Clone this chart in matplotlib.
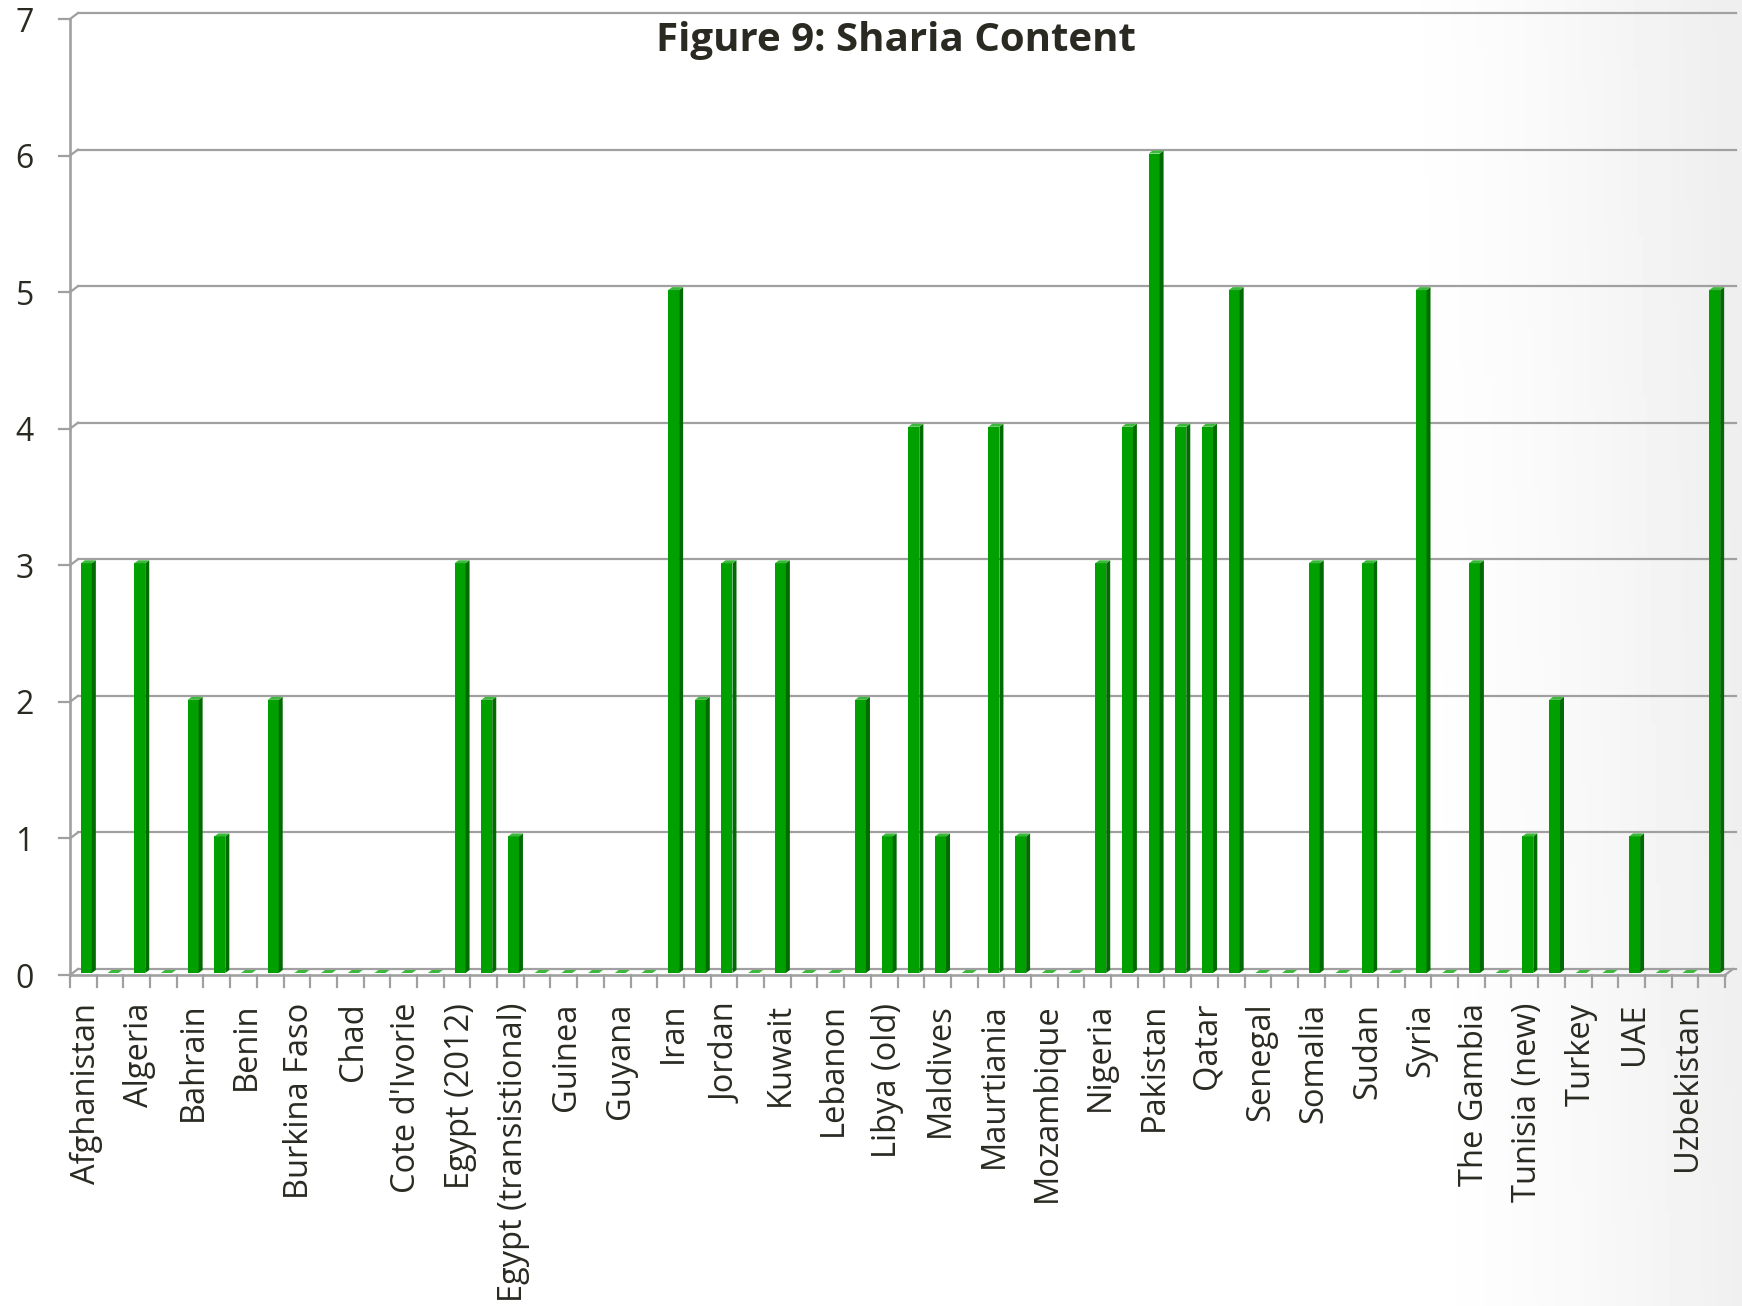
import numpy as np
import matplotlib
matplotlib.use("Agg")
import matplotlib.pyplot as plt
from matplotlib.collections import PolyCollection

# countries shown on the axis (every second column carries a label)
labels = ["Afghanistan", "Algeria", "Bahrain", "Benin", "Burkina Faso", "Chad",
          "Cote d'Ivorie", "Egypt (2012)", "Egypt (transistional)", "Guinea",
          "Guyana", "Iran", "Jordan", "Kuwait", "Lebanon", "Libya (old)",
          "Maldives", "Maurtiania", "Mozambique", "Nigeria", "Pakistan", "Qatar",
          "Senegal", "Somalia", "Sudan", "Syria", "The Gambia", "Tunisia (new)",
          "Turkey", "UAE", "Uzbekistan"]

# sharia content score per constitution, 62 columns
values = [3, 0, 3, 0, 2, 1, 0, 2, 0, 0,
          0, 0, 0, 0, 3, 2, 1, 0, 0, 0,
          0, 0, 5, 2, 3, 0, 3, 0, 0, 2,
          1, 4, 1, 0, 4, 1, 0, 0, 3, 4,
          6, 4, 4, 5, 0, 0, 3, 0, 3, 0,
          5, 0, 3, 0, 1, 2, 0, 0, 1, 0,
          0, 5]

yticks = [0, 1, 2, 3, 4, 5, 6, 7]

W, H = 1742, 1306
txt_col = "#2b2a22"
grid_col = "#a0a0a0"
front_col = "#00a000"
side_col = "#006b00"
top_col = "#3cb83c"
font = "Open Sans"

fig = plt.figure(figsize=(W/100, H/100), dpi=100)

# background: white fading to light grey on the right
bg = fig.add_axes([0, 0, 1, 1], zorder=-10)
gx = np.linspace(0, 1, 400)
gy = np.linspace(0, 1, 300)
XX, YY = np.meshgrid(gx, gy)
shade = np.clip((XX - 0.8) / 0.2 + 0.1*(YY - 0.5), 0, 1) ** 1.4
bg.imshow(1 - 0.065*shade, cmap="gray", vmin=0, vmax=1, aspect="auto",
          extent=[0, 1, 0, 1], origin="lower")
bg.axis("off")

x0, x1 = 70, 1725   # pixel columns of left axis and floor end
yb, yt = 975, 19    # pixel rows of 0 and 7
n = len(values)
ax = fig.add_axes([x0/W, (H-yb)/H, (x1-x0)/W, (yb-yt)/H])
ax.set_facecolor("none")
ax.set_xlim(-0.5, n-0.5)
ax.set_ylim(0, 7)
for s in ax.spines.values():
    s.set_visible(False)

ppx = (x1-x0)/n
ppy = (yb-yt)/7.0
def dx(p):
    return p/ppx
def dy(p):
    return p/ppy

lw = 1.6
L = -0.5
R = n-0.5
# back wall gridlines with the little 3d step at the axis
for v in yticks:
    ax.plot([L-dx(11), L], [v, v], c=grid_col, lw=lw, clip_on=False, zorder=1)
    ax.plot([L, L+dx(8)], [v, v+dy(6)], c=grid_col, lw=lw, clip_on=False, zorder=1)
    ax.plot([L+dx(8), R+dx(11)], [v+dy(6), v+dy(6)], c=grid_col, lw=lw,
            clip_on=False, zorder=1)
ax.plot([L, L], [0, 7], c=grid_col, lw=lw+0.3, clip_on=False, zorder=1)
# floor front edge and category ticks
ax.plot([L, R], [0, 0], c=grid_col, lw=lw+0.3, clip_on=False, zorder=2)
ax.plot([R, R+dx(8)], [0, dy(6)], c=grid_col, lw=lw, clip_on=False, zorder=2)
for k in range(n+1):
    ax.plot([k-0.5, k-0.5], [0, -dy(12)], c=grid_col, lw=lw, clip_on=False)

# bars: front face + darker side + lighter top
xs = np.arange(n) + dx(3)
bw = dx(11)
base = dy(2)
sx, sy = dx(4), dy(3)
ax.bar(xs, values, width=bw, bottom=base, color=front_col, lw=0, zorder=3)
sides = []
tops = []
for x, v in zip(xs, values):
    xl, xr = x - bw/2, x + bw/2
    t = base + v
    if v > 0:
        sides.append([(xr, base), (xr+sx, base+sy), (xr+sx, t+sy), (xr, t)])
    tops.append([(xl, t), (xr, t), (xr+sx, t+sy), (xl+sx, t+sy)])
ax.add_collection(PolyCollection(sides, facecolors=side_col, lw=0, zorder=3))
ax.add_collection(PolyCollection(tops, facecolors=top_col, lw=0, zorder=4))

ax.set_xticks(xs[::2])
ax.set_xticklabels(labels, rotation=90, fontsize=23.5, color=txt_col, family=font)
ax.tick_params("x", length=0, pad=20)
ax.set_yticks(yticks)
ax.set_yticklabels([str(v) for v in yticks], fontsize=23, color=txt_col, family=font)
ax.tick_params("y", length=0, pad=26)

fig.text(896/W, 1-51/H, "Figure 9: Sharia Content", ha="center", va="baseline",
         fontsize=29, fontweight="bold", color=txt_col, family=font)

fig.savefig("out.png", dpi=100)
